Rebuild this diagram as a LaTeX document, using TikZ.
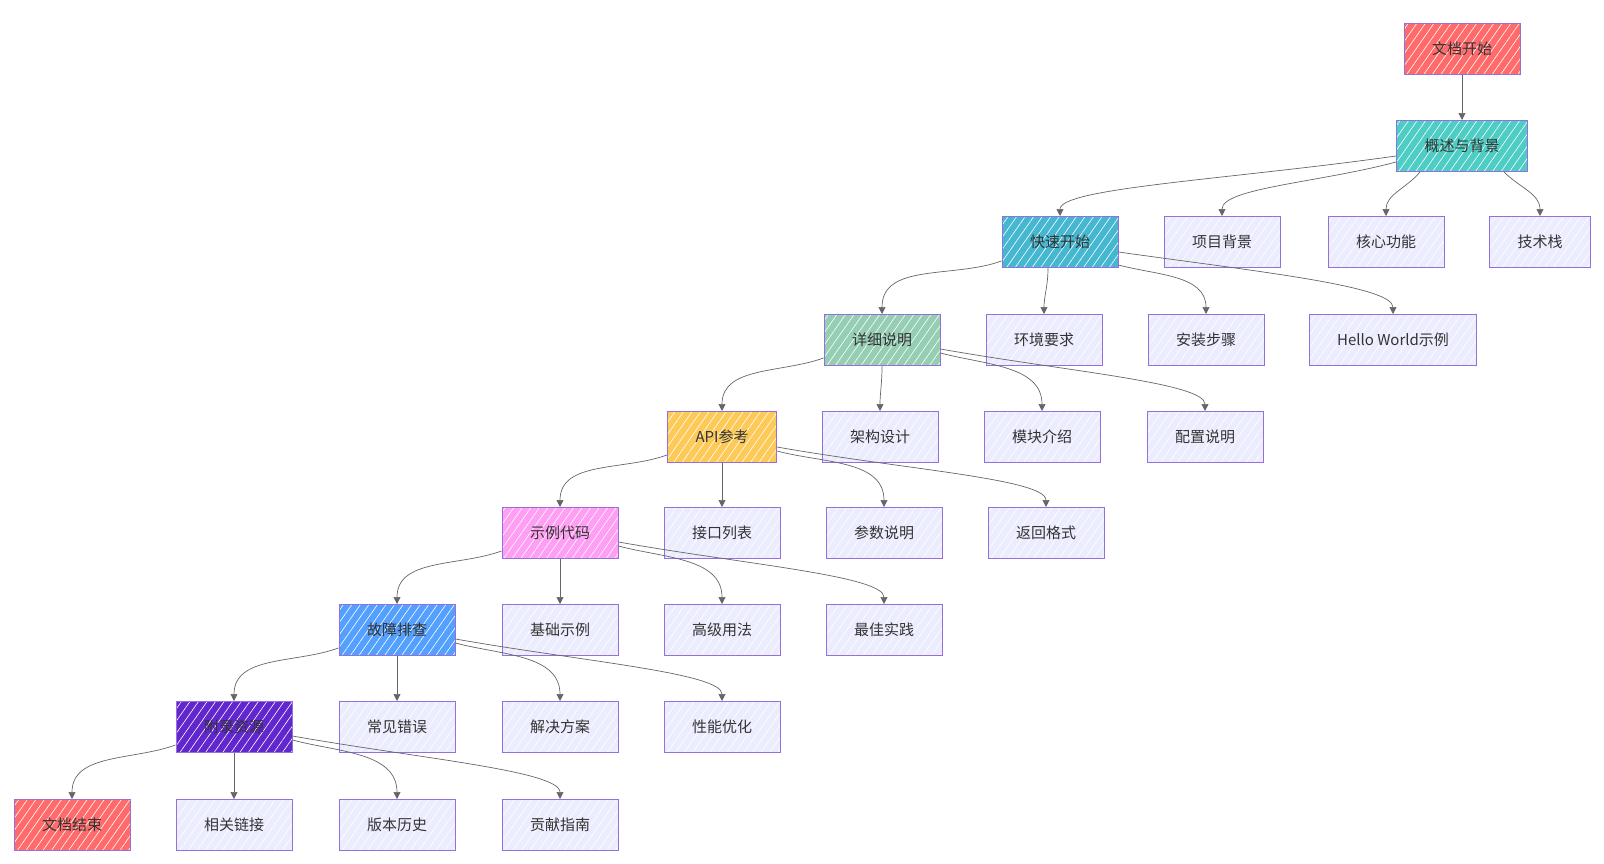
\documentclass[tikz,border=0pt]{standalone}
\usepackage{fontspec}
\usepackage{xcolor}
\usepackage{tikz}
\usetikzlibrary{arrows.meta,patterns.meta}
\newfontfamily\cjk{Noto Sans CJK SC}
\definecolor{docRed}{HTML}{FF6B6B}
\definecolor{overviewTeal}{HTML}{4ECDC4}
\definecolor{quickBlue}{HTML}{45B7D1}
\definecolor{detailGreen}{HTML}{96CEB4}
\definecolor{apiAmber}{HTML}{FECA57}
\definecolor{examplePink}{HTML}{FF9FF3}
\definecolor{troubleBlue}{HTML}{54A0FF}
\definecolor{appendixPurple}{HTML}{5F27CD}
\definecolor{docSoft}{HTML}{ECECFF}
\definecolor{docBorder}{HTML}{9370DB}
\definecolor{docInk}{HTML}{333333}
\definecolor{edgeGray}{HTML}{666666}
\tikzset{
  doc/.style={
    rectangle,
    fill=docSoft,
    line width=1pt,
    minimum height=51pt,
    inner xsep=28pt,
    inner ysep=0pt,
    text=docInk,
    font=\cjk\fontsize{15}{18}\selectfont,
    postaction={pattern={Lines[angle=55,distance=7pt,line width=0.6pt]},pattern color=white},
    postaction={draw=docBorder,line width=1pt}
  },
  arrow/.style={
    -{Triangle[length=7pt,width=7pt]},
    line width=0.7pt,
    draw=edgeGray
  },
  farArrow/.style={
    arrow,
    out distance=#1,
    in distance=28pt
  }
}
\begin{document}
\begin{tikzpicture}[x=1pt,y=-1pt]
  \useasboundingbox (0,0) rectangle (1604,863);
  % levels, top to bottom
  \node[doc,fill=docRed] (start) at (1462,49) {文档开始};
  \node[doc,fill=overviewTeal] (overview) at (1462,146) {概述与背景};
  \node[doc,fill=quickBlue] (quick) at (1060,242) {快速开始};
  \node[doc] (background) at (1222,242) {项目背景};
  \node[doc] (features) at (1386,242) {核心功能};
  \node[doc] (stack) at (1540,242) {技术栈};
  \node[doc,fill=detailGreen] (detail) at (882,340) {详细说明};
  \node[doc] (env) at (1044,340) {环境要求};
  \node[doc] (install) at (1206,340) {安装步骤};
  \node[doc] (hello) at (1393,340) {Hello World示例};
  \node[doc,fill=apiAmber] (api) at (722,437) {API参考};
  \node[doc] (arch) at (880,437) {架构设计};
  \node[doc] (modules) at (1042,437) {模块介绍};
  \node[doc] (config) at (1205,437) {配置说明};
  \node[doc,fill=examplePink] (examples) at (560,533) {示例代码};
  \node[doc] (endpoints) at (722,533) {接口列表};
  \node[doc] (params) at (884,533) {参数说明};
  \node[doc] (returns) at (1046,533) {返回格式};
  \node[doc,fill=troubleBlue] (trouble) at (397,630) {故障排查};
  \node[doc] (basic) at (560,630) {基础示例};
  \node[doc] (advanced) at (722,630) {高级用法};
  \node[doc] (practice) at (884,630) {最佳实践};
  \node[doc,fill=appendixPurple] (appendix) at (234,727) {附录资源};
  \node[doc] (errors) at (397,727) {常见错误};
  \node[doc] (solutions) at (560,727) {解决方案};
  \node[doc] (perf) at (722,727) {性能优化};
  \node[doc,fill=docRed] (finish) at (72,825) {文档结束};
  \node[doc] (links) at (234,825) {相关链接};
  \node[doc] (history) at (397,825) {版本历史};
  \node[doc] (contrib) at (560,825) {贡献指南};
  % connectors
  \draw[arrow] (start) -- (overview);
  \draw[farArrow=170pt] ([yshift=16pt]overview.south west) to[out=188,in=90] (quick.north);
  \draw[farArrow=80pt] ([yshift=10pt]overview.south west) to[out=195,in=90] (background.north);
  \draw[arrow] ([xshift=24pt]overview.south west) to[out=-130,in=90] (features.north);
  \draw[arrow] ([xshift=-24pt]overview.south east) to[out=-45,in=90] (stack.north);
  \draw[arrow] ([yshift=7pt]quick.south west) to[out=200,in=90] (detail.north);
  \draw[arrow] ([xshift=-12pt]quick.south) to[out=-90,in=90] (env.north);
  \draw[arrow] ([yshift=3pt]quick.south east) to[out=-15,in=90] (install.north);
  \draw[farArrow=140pt] ([yshift=16pt]quick.south east) to[out=-8,in=90] (hello.north);
  \draw[arrow] ([yshift=8pt]detail.south west) to[out=200,in=90] (api.north);
  \draw[arrow] (detail.south) to[out=-90,in=90] (arch.north);
  \draw[arrow] ([yshift=13pt]detail.south east) to[out=-15,in=90] (modules.north);
  \draw[farArrow=130pt] ([yshift=17pt]detail.south east) to[out=-10,in=90] (config.north);
  \draw[arrow] ([yshift=8pt]api.south west) to[out=200,in=90] (examples.north);
  \draw[arrow] (api) -- (endpoints);
  \draw[arrow] ([yshift=12pt]api.south east) to[out=-15,in=90] (params.north);
  \draw[farArrow=130pt] ([yshift=16pt]api.south east) to[out=-10,in=90] (returns.north);
  \draw[arrow] ([yshift=8pt]examples.south west) to[out=200,in=90] (trouble.north);
  \draw[arrow] (examples) -- (basic);
  \draw[arrow] ([yshift=13pt]examples.south east) to[out=-15,in=90] (advanced.north);
  \draw[farArrow=130pt] ([yshift=17pt]examples.south east) to[out=-10,in=90] (practice.north);
  \draw[arrow] ([yshift=8pt]trouble.south west) to[out=200,in=90] (appendix.north);
  \draw[arrow] (trouble) -- (errors);
  \draw[arrow] ([yshift=13pt]trouble.south east) to[out=-15,in=90] (solutions.north);
  \draw[farArrow=130pt] ([yshift=17pt]trouble.south east) to[out=-10,in=90] (perf.north);
  \draw[arrow] ([yshift=8pt]appendix.south west) to[out=200,in=90] (finish.north);
  \draw[arrow] (appendix) -- (links);
  \draw[arrow] ([yshift=13pt]appendix.south east) to[out=-15,in=90] (history.north);
  \draw[farArrow=130pt] ([yshift=17pt]appendix.south east) to[out=-10,in=90] (contrib.north);
\end{tikzpicture}
\end{document}
